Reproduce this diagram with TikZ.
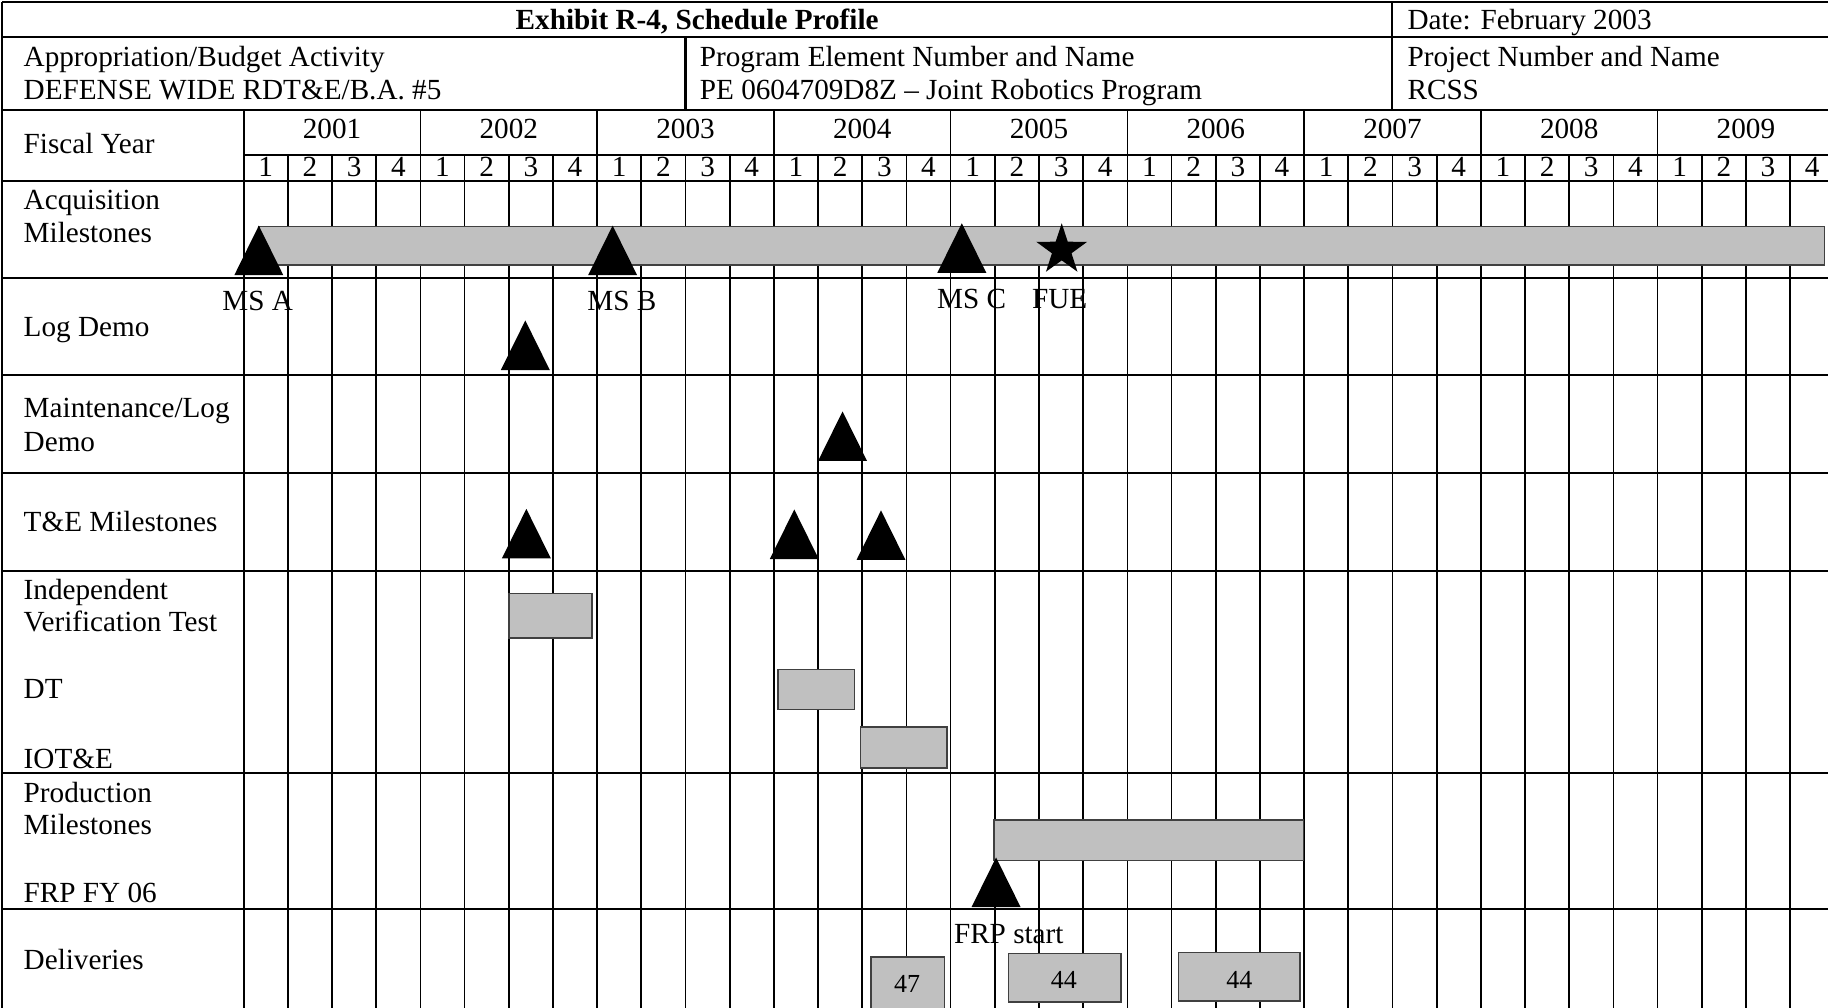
\documentclass[tikz,border=0pt]{standalone}
\usepackage{fontspec}
\setmainfont{Liberation Serif}
\usepackage{xcolor}
\usepackage{tikz}
\usetikzlibrary{shapes.geometric}

\definecolor{barfill}{RGB}{192,192,192}
\definecolor{barline}{RGB}{64,64,64}
\newcommand{\qwidth}{37.9}
\newcommand{\gridx}{209}

\begin{document}
\begin{tikzpicture}[
  x=0.58291pt, y=-0.58291pt,
  txt/.style={font=\fontsize{14.6}{16.3}\selectfont, inner sep=0pt},
  lbl/.style={txt, anchor=base west},
  rule/.style={line width=1.05pt},
  gridline/.style={line width=0.85pt},
  bar/.style={draw=barline, line width=0.8pt, fill=barfill},
  num/.style={font=\fontsize{13}{15}\selectfont, inner sep=0pt, anchor=base},
  ms/.pic={\fill (-21,0) -- (0,-42.5) -- (21,0) -- cycle;}
]
  \useasboundingbox (0,0) rectangle (1568,864);

  % Grid: quarter lines and year lines
  \foreach \i in {1,...,36}
    \draw[gridline] ({\gridx+\i*\qwidth},133) -- ({\gridx+\i*\qwidth},870);
  \foreach \i in {1,...,8}
    \draw[gridline] ({\gridx+4*\i*\qwidth},94) -- ({\gridx+4*\i*\qwidth},133);
  \draw[gridline] (\gridx,94) -- (\gridx,870);
  \draw[rule] (1194,2) -- (1194,94);
  \draw[rule] (588,32) -- (588,94);
  \draw[rule] (2,2) -- (2,870);

  % Row rules
  \foreach \yy in {2,32,94,155,238.5,322,406,490,663,780}
    \draw[rule] (2,\yy) -- (1580,\yy);
  \draw[gridline] (\gridx,133) -- (1580,133);

  % Header
  \node[txt, font=\fontsize{14.6}{16.3}\selectfont\bfseries, anchor=base] (title) at (598,25) {Exhibit R-4, Schedule Profile};
  \node[lbl] (date) at (1207,25) {Date: February 2003};
  \node[lbl] (approp) at (20,57) {Appropriation/Budget Activity};
  \node[lbl] (ba) at (20,85) {DEFENSE WIDE RDT\&E/B.A. \#5};
  \node[lbl] (pe) at (600,57) {Program Element Number and Name};
  \node[lbl] (pename) at (600,85) {PE 0604709D8Z -- Joint Robotics Program};
  \node[lbl] (proj) at (1207,57) {Project Number and Name};
  \node[lbl] (rcss) at (1207,85) {RCSS};

  % Fiscal years and quarters
  \node[lbl] (fy) at (20,131.5) {Fiscal Year};
  \foreach \yr [count=\i from 0] in {2001,...,2009}
    \node[txt, anchor=base] (y\yr) at ({\gridx+(4*\i+2)*\qwidth},119) {\yr};
  \foreach \i in {0,...,35} {
    \pgfmathtruncatemacro{\qn}{mod(\i,4)+1}
    \node[txt, anchor=base] (q\i) at ({\gridx+(\i+0.5)*\qwidth},151) {\qn};
  }

  % Row labels
  \node[lbl] (acq1) at (20,180) {Acquisition};
  \node[lbl] (acq2) at (20,208) {Milestones};
  \node[lbl] (log) at (20,289) {Log Demo};
  \node[lbl] (maint1) at (20,358) {Maintenance/Log};
  \node[lbl] (maint2) at (20,387) {Demo};
  \node[lbl] (te) at (20,456) {T\&E Milestones};
  \node[lbl] (ivt1) at (20,514) {Independent};
  \node[lbl] (ivt2) at (20,542) {Verification Test};
  \node[lbl] (dt) at (20,599) {DT};
  \node[lbl] (iote) at (20,659) {IOT\&E};
  \node[lbl] (prod1) at (20,688) {Production};
  \node[lbl] (prod2) at (20,716) {Milestones};
  \node[lbl] (frp) at (20,774) {FRP FY 06};
  \node[lbl] (deliv) at (20,832) {Deliveries};

  % Bars
  \draw[bar] (222,194.4) rectangle (1565,227.3);
  \draw[bar] (436.5,509) rectangle (507.7,547);
  \draw[bar] (667.4,574.3) rectangle (733,608.5);
  \draw[bar] (738,623.4) rectangle (812.4,658.5);
  \draw[bar] (852.7,703.2) rectangle (1118.2,738.2);
  \draw[bar] (747,821) rectangle (810,880);
  \draw[bar] (865,818) rectangle (961.8,859.3);
  \draw[bar] (1010.7,817) rectangle (1115,858.7);

  % Deliveries
  \node[num] (d47) at (778,851) {47};
  \node[num] (d44a) at (912.5,848) {44};
  \node[num] (d44b) at (1063,848) {44};

  % Milestone markers
  \pic at (222,236) {ms};
  \pic at (525.5,236) {ms};
  \pic at (825,234) {ms};
  \node[star, star points=5, star point ratio=2.6, fill=black, inner sep=0pt,
        minimum size=26.8pt] (fue) at (910.7,214.5) {};
  \pic at (450.6,317.4) {ms};
  \pic at (722.7,395.4) {ms};
  \pic at (451.5,479) {ms};
  \pic at (681.3,479.5) {ms};
  \pic at (755.7,480.3) {ms};
  \pic at (854.4,778) {ms};

  % Milestone labels
  \node[txt, anchor=base] (msa) at (221,266) {MS A};
  \node[txt, anchor=base] (msb) at (533.5,266) {MS B};
  \node[txt, anchor=base] (msc) at (833.5,265) {MS C};
  \node[txt, anchor=base] (fuelbl) at (909,265) {FUE};
  \node[txt, anchor=base] (frpstart) at (865.3,809) {FRP start};
\end{tikzpicture}
\end{document}
